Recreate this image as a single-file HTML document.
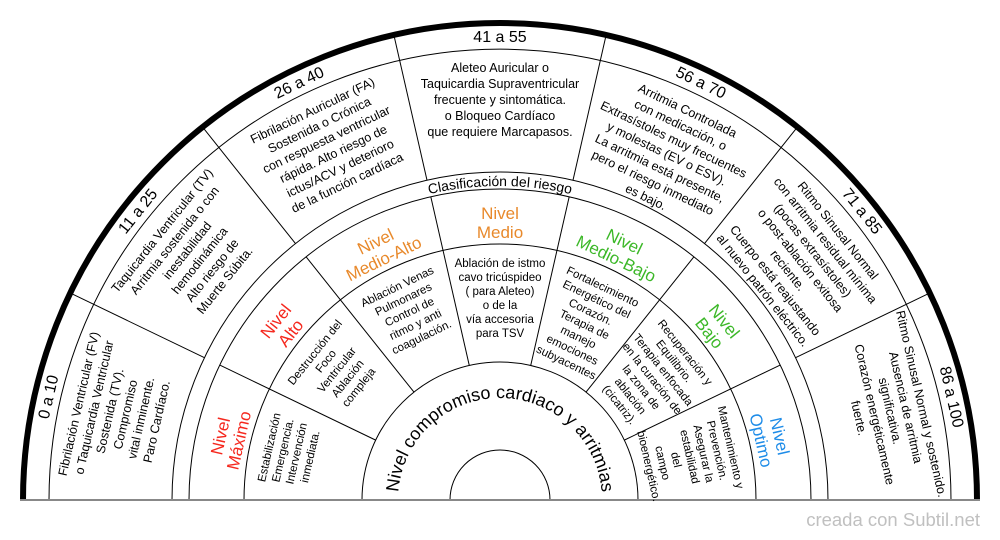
<!DOCTYPE html>
<html><head><meta charset="utf-8"><style>
html,body{margin:0;padding:0;background:#fff;}
svg{display:block;font-family:"Liberation Sans",Arial,sans-serif;}
</style></head><body>
<svg width="1000" height="540" viewBox="0 0 1000 540" xmlns="http://www.w3.org/2000/svg">
<defs>
<path id="arcIn" d="M 398 500 A 102 102 0 0 1 602 500"/>
<path id="arcCl" d="M 186 500 A 314 314 0 0 1 814 500"/>
</defs>
<g fill="none" stroke="#000" stroke-width="1">
<path d="M 23 500 A 477 477 0 0 1 977 500" stroke-width="6"/>
<path d="M 49 500 A 451 451 0 0 1 951 500"/>
<path d="M 172 500 A 328 328 0 0 1 828 500"/>
<path d="M 189 500 A 311 311 0 0 1 811 500"/>
<path d="M 244 500 A 256 256 0 0 1 756 500"/>
<path d="M 362 500 A 138 138 0 0 1 638 500"/>
<path d="M 450 500 A 50 50 0 0 1 550 500"/>
</g>
<g stroke="#000" stroke-width="1">
<g transform="rotate(25.714 500 500)"><line x1="22" y1="500" x2="172" y2="500"/><line x1="189" y1="500" x2="362" y2="500"/></g>
<g transform="rotate(51.429 500 500)"><line x1="22" y1="500" x2="172" y2="500"/><line x1="189" y1="500" x2="362" y2="500"/></g>
<g transform="rotate(77.143 500 500)"><line x1="22" y1="500" x2="172" y2="500"/><line x1="189" y1="500" x2="362" y2="500"/></g>
<g transform="rotate(102.857 500 500)"><line x1="22" y1="500" x2="172" y2="500"/><line x1="189" y1="500" x2="362" y2="500"/></g>
<g transform="rotate(128.571 500 500)"><line x1="22" y1="500" x2="172" y2="500"/><line x1="189" y1="500" x2="362" y2="500"/></g>
<g transform="rotate(154.286 500 500)"><line x1="22" y1="500" x2="172" y2="500"/><line x1="189" y1="500" x2="362" y2="500"/></g>
</g>
<line x1="20" y1="500" x2="980" y2="500" stroke="#888" stroke-width="2"/>

<text font-size="18" fill="#000"><textPath href="#arcIn" startOffset="50%" text-anchor="middle">Nivel compromiso cardiaco y arritmias</textPath></text>
<text font-size="14" fill="#000"><textPath href="#arcCl" startOffset="50%" text-anchor="middle">Clasificación del riesgo</textPath></text>

<g text-anchor="middle" fill="#000">
<g transform="rotate(-77.143 500 500)">
<text x="500" y="42" font-size="16">0 a 10</text>
<g font-size="12.5"><text x="500" y="72">Fibrilación Ventricular (FV)</text><text x="500" y="88">o Taquicardia Ventricular</text><text x="500" y="104">Sostenida (TV).</text><text x="500" y="120">Compromiso</text><text x="500" y="136">vital inminente.</text><text x="500" y="152">Paro Cardíaco.</text></g>
<g font-size="17" fill="#f5281e"><text x="500" y="219">Nivel</text><text x="500" y="238">Máximo</text></g>
<g font-size="11.5"><text x="500" y="267">Estabilización</text><text x="500" y="281">Emergencia.</text><text x="500" y="295">Intervención</text><text x="500" y="309">inmediata.</text></g>
</g>
<g transform="rotate(-51.429 500 500)">
<text x="500" y="42" font-size="16">11 a 25</text>
<g font-size="12.5"><text x="500" y="72">Taquicardia Ventricular (TV)</text><text x="500" y="88">Arritmia sostenida o con</text><text x="500" y="104">inestabilidad</text><text x="500" y="120">hemodinámica</text><text x="500" y="136">Alto riesgo de</text><text x="500" y="152">Muerte Súbita.</text></g>
<g font-size="17" fill="#f5281e"><text x="500" y="219">Nivel</text><text x="500" y="238">Alto</text></g>
<g font-size="11.5"><text x="500" y="267">Destrucción del</text><text x="500" y="281">Foco</text><text x="500" y="295">Ventricular</text><text x="500" y="309">Ablación</text><text x="500" y="323">compleja</text></g>
</g>
<g transform="rotate(-25.714 500 500)">
<text x="500" y="42" font-size="16">26 a 40</text>
<g font-size="12.5"><text x="500" y="72">Fibrilación Auricular (FA)</text><text x="500" y="88">Sostenida o Crónica</text><text x="500" y="104">con respuesta ventricular</text><text x="500" y="120">rápida. Alto riesgo de</text><text x="500" y="136">ictus/ACV y deterioro</text><text x="500" y="152">de la función cardíaca</text></g>
<g font-size="17" fill="#e8892b"><text x="500" y="219">Nivel</text><text x="500" y="238">Medio-Alto</text></g>
<g font-size="11.5"><text x="500" y="267">Ablación Venas</text><text x="500" y="281">Pulmonares</text><text x="500" y="295">Control de</text><text x="500" y="309">ritmo y anti</text><text x="500" y="323">coagulación.</text></g>
</g>
<g>
<text x="500" y="42" font-size="16">41 a 55</text>
<g font-size="12.5"><text x="500" y="72">Aleteo Auricular o</text><text x="500" y="88">Taquicardia Supraventricular</text><text x="500" y="104">frecuente y sintomática.</text><text x="500" y="120">o Bloqueo Cardíaco</text><text x="500" y="136">que requiere Marcapasos.</text></g>
<g font-size="17" fill="#e8892b"><text x="500" y="219">Nivel</text><text x="500" y="238">Medio</text></g>
<g font-size="11.5"><text x="500" y="267">Ablación de istmo</text><text x="500" y="281">cavo tricúspideo</text><text x="500" y="295">( para Aleteo)</text><text x="500" y="309">o de la</text><text x="500" y="323">vía accesoria</text><text x="500" y="337">para TSV</text></g>
</g>
<g transform="rotate(25.714 500 500)">
<text x="500" y="42" font-size="16">56 a 70</text>
<g font-size="12.5"><text x="500" y="72">Arritmia Controlada</text><text x="500" y="88">con medicación, o</text><text x="500" y="104">Extrasístoles muy frecuentes</text><text x="500" y="120">y molestas (EV o ESV).</text><text x="500" y="136">La arritmia está presente,</text><text x="500" y="152">pero el riesgo inmediato</text><text x="500" y="168">es bajo.</text></g>
<g font-size="17" fill="#3cb828"><text x="500" y="219">Nivel</text><text x="500" y="238">Medio-Bajo</text></g>
<g font-size="11.5"><text x="500" y="267">Fortalecimiento</text><text x="500" y="281">Energético del</text><text x="500" y="295">Corazón.</text><text x="500" y="309">Terapia de</text><text x="500" y="323">manejo</text><text x="500" y="337">emociones</text><text x="500" y="351">subyacentes</text></g>
</g>
<g transform="rotate(51.429 500 500)">
<text x="500" y="42" font-size="16">71 a 85</text>
<g font-size="12.5"><text x="500" y="72">Ritmo Sinusal Normal</text><text x="500" y="88">con arritmia residual mínima</text><text x="500" y="104">(pocas extrasístoles)</text><text x="500" y="120">o post-ablación exitosa</text><text x="500" y="136">reciente.</text><text x="500" y="152">Cuerpo está reajustando</text><text x="500" y="168">al nuevo patrón eléctrico.</text></g>
<g font-size="17" fill="#3cb828"><text x="500" y="219">Nivel</text><text x="500" y="238">Bajo</text></g>
<g font-size="11.5"><text x="500" y="267">Recuperación y</text><text x="500" y="281">Equilibrio.</text><text x="500" y="295">Terapia enfocada</text><text x="500" y="309">en la curación de</text><text x="500" y="323">la zona de</text><text x="500" y="337">ablación</text><text x="500" y="351">(cicatriz).</text></g>
</g>
<g transform="rotate(77.143 500 500)">
<text x="500" y="42" font-size="16">86 a 100</text>
<g font-size="12.5"><text x="500" y="72">Ritmo Sinusal Normal y sostenido.</text><text x="500" y="88">Ausencia de arritmia</text><text x="500" y="104">significativa.</text><text x="500" y="120">Corazón energéticamente</text><text x="500" y="136">fuerte.</text></g>
<g font-size="17" fill="#1e8ce8"><text x="500" y="219">Nivel</text><text x="500" y="238">Optimo</text></g>
<g font-size="11.5"><text x="500" y="267">Mantenimiento y</text><text x="500" y="281">Prevención.</text><text x="500" y="295">Asegurar la</text><text x="500" y="309">estabilidad</text><text x="500" y="323">del</text><text x="500" y="337">campo</text><text x="500" y="351">bioenergético.</text></g>
</g>
</g>
<text x="980" y="526" text-anchor="end" font-size="18.5" fill="#c0c0c0">creada con Subtil.net</text>
</svg>
</body></html>
